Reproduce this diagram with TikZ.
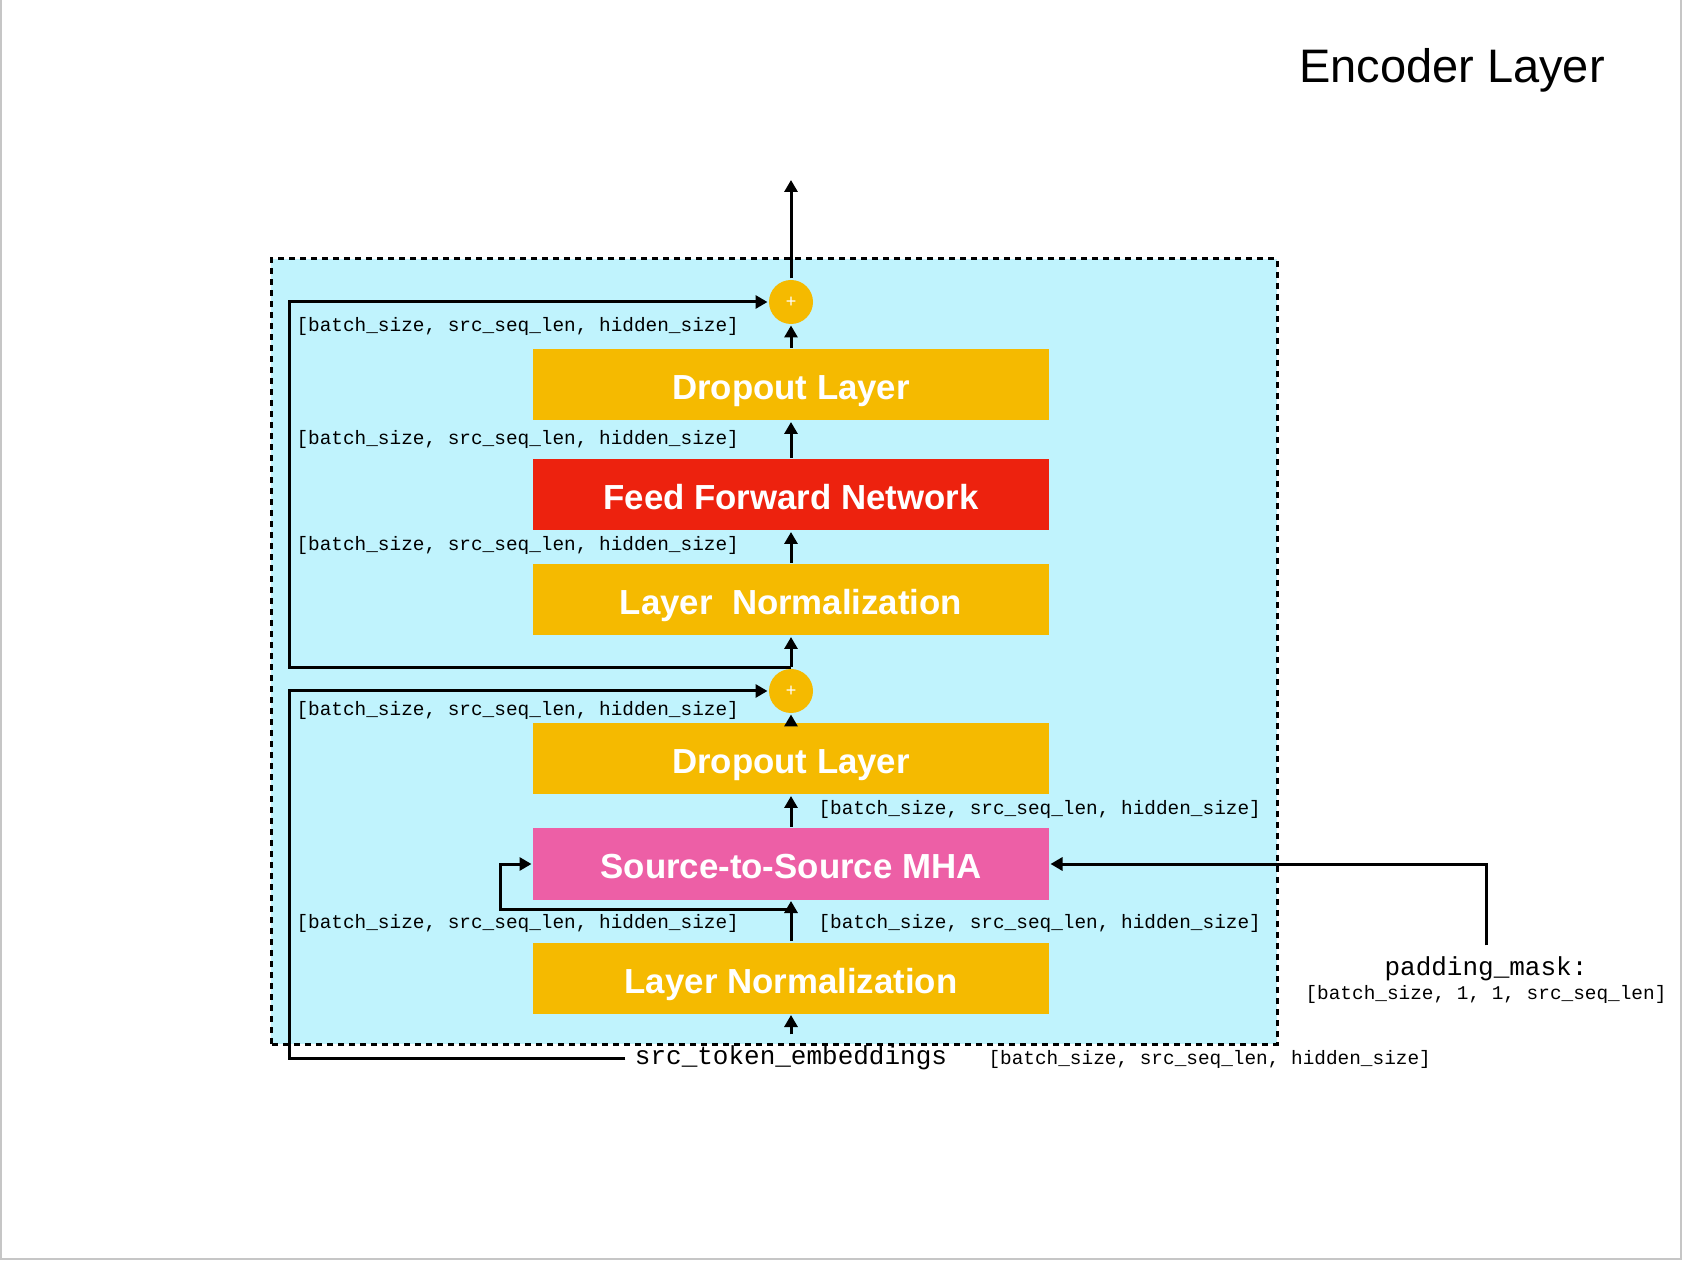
\documentclass[tikz,border=0pt]{standalone}
\usepackage{fontspec}
\setmainfont{Liberation Sans}
\newfontfamily\codefont{Liberation Mono}
\usepackage{tikz}
\usetikzlibrary{arrows.meta}

\definecolor{cyanfill}{RGB}{192,243,253}
\definecolor{orangefill}{RGB}{245,186,0}
\definecolor{redfill}{RGB}{237,34,14}
\definecolor{pinkfill}{RGB}{237,95,166}

\begin{document}
\begin{tikzpicture}[x=1pt,y=1pt,->,>={Triangle[length=6pt,width=6.5pt]},line width=1.5pt,node distance=50pt]
            \tikzstyle{block}=[rectangle,fill=orangefill,draw=none,text=white,minimum width=258pt,minimum height=35.5pt,text height=15pt,text depth=0pt,font=\fontsize{17.4}{20}\selectfont\bfseries]
            \tikzstyle{sumnode}=[circle,fill=orangefill,draw=none,text=white,minimum size=22pt,inner sep=0pt,font=\fontsize{9}{10}\selectfont]
            \tikzstyle{dims}=[anchor=west,inner sep=0pt,font=\codefont\fontsize{9.7}{11}\selectfont]
            \tikzstyle{code}=[inner xsep=4pt,inner ysep=5pt,font=\codefont\fontsize{13}{15}\selectfont]
            \useasboundingbox (0,0) rectangle (841,630);
            \draw[-,gray!45,line width=1pt] (0.5,630) -- (0.5,0.5) -- (840.5,0.5) -- (840.5,630);
            \draw[-,fill=cyanfill,dash pattern=on 3pt off 2.5pt] (135.5,108) rectangle (638.5,500.5);

            \node (title) at (726,595) {\fontsize{23.5}{28}\selectfont Encoder Layer};

            % sublayers, bottom to top
            \node[block]              (ln1)                                   at (395.5,141) {Layer Normalization};
            \node[block,fill=pinkfill] (mha)  [above of=ln1,node distance=57pt]   {Source-to-Source MHA};
            \node[block]              (drop1) [above of=mha,node distance=52.5pt] {Dropout Layer};
            \node[sumnode]            (add1)  [above of=drop1,node distance=34pt] {+};
            \node[block]              (ln2)   [above of=add1,node distance=45.5pt] {Layer\ \ Normalization};
            \node[block,fill=redfill] (ffn)   [above of=ln2,node distance=52.5pt] {Feed Forward Network};
            \node[block]              (drop2) [above of=ffn,node distance=55pt]   {Dropout Layer};
            \node[sumnode]            (add2)  [above of=drop2,node distance=41.5pt] {+};
            \node[coordinate]         (out)   [above of=add2,node distance=61pt] {};

            \node[code] (src) at (395.5,101) {src\_token\_embeddings};
            \node[code] (pm)  at (743,145.5) {padding\_mask:};
            \node[dims,anchor=center] (pmdims) at (743,133) {[batch\_size, 1, 1, src\_seq\_len]};

            % tensor shapes
            \node[dims] (d1) at (147.5,467)   {[batch\_size, src\_seq\_len, hidden\_size]};
            \node[dims] (d2) at (147.5,410.5) {[batch\_size, src\_seq\_len, hidden\_size]};
            \node[dims] (d3) at (147.5,357.5) {[batch\_size, src\_seq\_len, hidden\_size]};
            \node[dims] (d4) at (147.5,275)   {[batch\_size, src\_seq\_len, hidden\_size]};
            \node[dims] (d5) at (147.5,168.5) {[batch\_size, src\_seq\_len, hidden\_size]};
            \node[dims] (d6) at (408.5,225.5) {[batch\_size, src\_seq\_len, hidden\_size]};
            \node[dims] (d7) at (408.5,168.5) {[batch\_size, src\_seq\_len, hidden\_size]};
            \node[dims] (d8) at (493.5,100.5) {[batch\_size, src\_seq\_len, hidden\_size]};

            \coordinate (skipx) at (144.5,0);
            \coordinate (split1) at (395.5,175.5);
            \coordinate (mhax) at (250,0);

            \draw (src.north) -- (ln1.south);
            \draw (ln1.north) -- (mha.south);
            \draw (split1) -| (mhax |- mha) -- (mha.west);
            \draw (pm.north) |- (mha.east);
            \draw (mha.north) -- (drop1.south);
            \draw (drop1.north) -- (add1.south);
            \draw (src.west) -| (skipx |- add1) -- (add1.west);
            \draw (add1.north) -- (ln2.south);
            \draw (ln2.north) -- (ffn.south);
            \draw (ffn.north) -- (drop2.south);
            \draw (drop2.north) -- (add2.south);
            \draw (add1.north) -| (skipx |- add2) -- (add2.west);
            \draw (add2.north) -- (out);
        \end{tikzpicture}
\end{document}
